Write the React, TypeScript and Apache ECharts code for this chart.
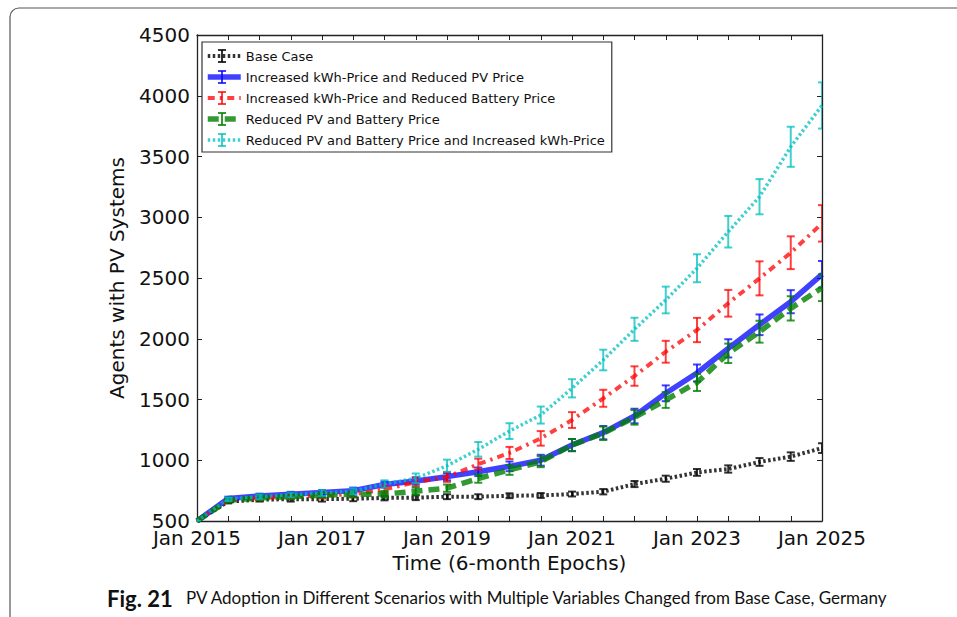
import React, { useEffect, useRef } from "react";
import * as echarts from "echarts";

const epochs = [
  "Jan 2015", "Jul 2015", "Jan 2016", "Jul 2016", "Jan 2017", "Jul 2017",
  "Jan 2018", "Jul 2018", "Jan 2019", "Jul 2019", "Jan 2020", "Jul 2020",
  "Jan 2021", "Jul 2021", "Jan 2022", "Jul 2022", "Jan 2023", "Jul 2023",
  "Jan 2024", "Jul 2024", "Jan 2025",
];

const seriesNames = [
  "Base Case",
  "Increased kWh-Price and Reduced PV Price",
  "Increased kWh-Price and Reduced Battery Price",
  "Reduced PV and Battery Price",
  "Reduced PV and Battery Price and Increased kWh-Price",
];

const baseCase = [500, 660, 675, 680, 680, 683, 690, 692, 700, 700, 708, 710, 722, 741, 804, 848, 900, 928, 986, 1030, 1100];
const kwhPv = [500, 685, 705, 720, 735, 750, 800, 830, 865, 905, 950, 1000, 1125, 1227, 1364, 1551, 1718, 1921, 2115, 2305, 2530];
const kwhBattery = [500, 670, 690, 700, 710, 720, 760, 820, 862, 968, 1060, 1180, 1331, 1510, 1693, 1893, 2072, 2292, 2497, 2708, 2950];
const pvBattery = [500, 670, 690, 700, 712, 720, 722, 745, 770, 850, 920, 988, 1125, 1222, 1353, 1496, 1640, 1880, 2058, 2250, 2420];
const pvBatteryKwh = [500, 680, 700, 715, 730, 745, 805, 851, 955, 1090, 1240, 1372, 1592, 1825, 2078, 2319, 2580, 2881, 3169, 3580, 3920];

const baseErr = [0, 15, 15, 20, 20, 20, 20, 20, 20, 20, 20, 20, 20, 22, 25, 25, 28, 30, 32, 35, 40];
const kwhPvErr = [0, 15, 20, 20, 20, 25, 25, 30, 30, 35, 40, 45, 50, 55, 60, 65, 70, 75, 85, 95, 110];
const kwhBatteryErr = [0, 15, 20, 20, 25, 25, 30, 35, 40, 45, 50, 60, 65, 70, 80, 90, 100, 110, 140, 135, 150];
const pvBatteryErr = [0, 15, 20, 20, 20, 25, 25, 30, 30, 35, 40, 45, 50, 55, 60, 65, 70, 80, 90, 100, 110];
const pvBatteryKwhErr = [0, 15, 20, 20, 25, 25, 30, 40, 50, 60, 65, 70, 75, 85, 95, 110, 115, 130, 145, 165, 190];

const yTicks = [500, 4500, 500]; // min, max, step

const FONT = "DejaVu Sans";

type Sty = { color: string; width: number; type: any; opacity: number };
const styles: Sty[] = [
  { color: "#000000", width: 4, type: [2.5, 2.5], opacity: 0.8 },
  { color: "#0000ff", width: 5.5, type: "solid", opacity: 0.75 },
  { color: "#ff0000", width: 4, type: [7, 5, 2.5, 5], opacity: 0.75 },
  { color: "#008000", width: 5.5, type: [11, 6], opacity: 0.8 },
  { color: "#00bfbf", width: 3.5, type: [2.5, 2.5], opacity: 0.75 },
];

const allData = [baseCase, kwhPv, kwhBattery, pvBattery, pvBatteryKwh];
const allErr = [baseErr, kwhPvErr, kwhBatteryErr, pvBatteryErr, pvBatteryKwhErr];

function errSeries(idx: number) {
  const vals = allData[idx];
  const err = allErr[idx];
  const s = styles[idx];
  return {
    type: "custom",
    name: "err-" + idx,
    silent: true,
    clip: true,
    z: 2 + idx * 2,
    xAxisIndex: 0,
    yAxisIndex: 0,
    data: vals.map((v, i) => [i, v - err[i], v + err[i]]),
    encode: { x: 0, y: [1, 2] },
    renderItem: (params: any, api: any) => {
      const x = api.value(0);
      const lo = api.coord([x, api.value(1)]);
      const hi = api.coord([x, api.value(2)]);
      const w = 4;
      const st = { stroke: s.color, lineWidth: 2, opacity: s.opacity };
      return {
        type: "group",
        children: [
          { type: "line", shape: { x1: lo[0], y1: lo[1], x2: hi[0], y2: hi[1] }, style: st },
          { type: "line", shape: { x1: lo[0] - w, y1: lo[1], x2: lo[0] + w, y2: lo[1] }, style: st },
          { type: "line", shape: { x1: hi[0] - w, y1: hi[1], x2: hi[0] + w, y2: hi[1] }, style: st },
        ],
      };
    },
  };
}

function lineSeries(idx: number) {
  const s = styles[idx];
  return {
    type: "line",
    name: seriesNames[idx],
    data: allData[idx],
    symbol: "none",
    clip: true,
    z: 3 + idx * 2,
    xAxisIndex: 0,
    yAxisIndex: 0,
    lineStyle: { color: s.color, width: s.width, type: s.type, opacity: s.opacity, cap: "butt" },
    itemStyle: { color: s.color, opacity: s.opacity },
  };
}

const LEG_TOP = 42;
const ROW0 = 56;
const ROW_STEP = 21;

export default function App() {
  const ref = useRef<HTMLDivElement>(null);
  useEffect(() => {
    if (!ref.current) return;
    const chart = echarts.init(ref.current, null, { renderer: "svg" });
    const axisLine = { show: true, lineStyle: { color: "#222", width: 1.3 } };
    const tick = { show: true, inside: true, length: 5, lineStyle: { color: "#222", width: 1 } };
    const series: any[] = [];
    for (let i = 0; i < 5; i++) {
      series.push(errSeries(i));
      series.push(lineSeries(i));
    }
    const legendRows = seriesNames.map((_, i) => i);
    const option: any = {
      animation: false,
      backgroundColor: "#ffffff",
      textStyle: { fontFamily: FONT },
      grid: { left: 197, right: 135, top: 35, bottom: 96, containLabel: false },
      xAxis: [
        {
          type: "category",
          data: epochs,
          boundaryGap: false,
          position: "bottom",
          axisLine,
          axisTick: { ...tick, interval: 0 },
          axisLabel: { interval: 3, fontSize: 20, color: "#111", margin: 7, fontFamily: FONT },
          splitLine: { show: false },
          name: "Time (6-month Epochs)",
          nameLocation: "middle",
          nameGap: 30,
          nameTextStyle: { fontSize: 20, color: "#111", fontFamily: FONT },
        },
        {
          type: "category",
          data: epochs,
          boundaryGap: false,
          position: "top",
          axisLine,
          axisTick: { ...tick, interval: 0 },
          axisLabel: { show: false },
          splitLine: { show: false },
        },
      ],
      yAxis: [
        {
          type: "value",
          min: yTicks[0],
          max: yTicks[1],
          interval: yTicks[2],
          position: "left",
          axisLine,
          axisTick: tick,
          axisLabel: {
            fontSize: 20,
            color: "#111",
            margin: 7,
            fontFamily: FONT,
            formatter: (v: number) => String(v),
          },
          splitLine: { show: false },
          name: "Agents with PV Systems",
          nameLocation: "middle",
          nameGap: 70,
          nameTextStyle: { fontSize: 20, color: "#111", fontFamily: FONT },
        },
        {
          type: "value",
          min: yTicks[0],
          max: yTicks[1],
          interval: yTicks[2],
          position: "right",
          axisLine,
          axisTick: tick,
          axisLabel: { show: false },
          splitLine: { show: false },
        },
      ],
      legend: {
        show: true,
        data: seriesNames,
        orient: "vertical",
        left: 202,
        top: LEG_TOP,
        itemWidth: 33,
        itemHeight: 14,
        itemGap: 7,
        padding: [7, 7, 5, 3],
        borderColor: "#333",
        borderWidth: 1.2,
        borderRadius: 0,
        backgroundColor: "transparent",
        itemStyle: { opacity: 0 },
        lineStyle: { width: "inherit" },
        textStyle: { fontSize: 13, color: "#111", fontFamily: FONT, lineHeight: 14 },
        selectedMode: false,
      },
      graphic: [
        {
          type: "rect",
          shape: { x: 10, y: 8, width: 980, height: 640, r: 9 },
          style: { fill: "none", stroke: "#555", lineWidth: 1.2 },
          silent: true,
          z: 0,
        },
        ...legendRows.map((i) => {
          const cy = ROW0 + ROW_STEP * i;
          const st = { stroke: styles[i].color, lineWidth: 2, opacity: styles[i].opacity };
          return {
            type: "group",
            silent: true,
            z: 100,
            children: [
              { type: "line", z: 100, shape: { x1: 222, y1: cy - 6, x2: 222, y2: cy + 6 }, style: st },
              { type: "line", z: 100, shape: { x1: 218, y1: cy - 6, x2: 226, y2: cy - 6 }, style: st },
              { type: "line", z: 100, shape: { x1: 218, y1: cy + 6, x2: 226, y2: cy + 6 }, style: st },
            ],
          };
        }),
        {
          type: "text",
          left: 107,
          top: 587,
          style: {
            text: "Fig. 21",
            fontFamily: "Lato",
            fontWeight: "bold",
            fontSize: 22,
            fill: "#111",
          },
        },
        {
          type: "text",
          left: 186,
          top: 589,
          style: {
            text: "PV Adoption in Different Scenarios with Multiple Variables Changed from Base Case, Germany",
            fontFamily: "Lato",
            fontSize: 17,
            fill: "#111",
          },
        },
      ],
      series,
    };
    chart.setOption(option);
    return () => chart.dispose();
  }, []);
  return (
    <div
      ref={ref}
      style={{ position: "fixed", left: 0, top: 0, width: 957, height: 617, background: "#fff" }}
    />
  );
}
